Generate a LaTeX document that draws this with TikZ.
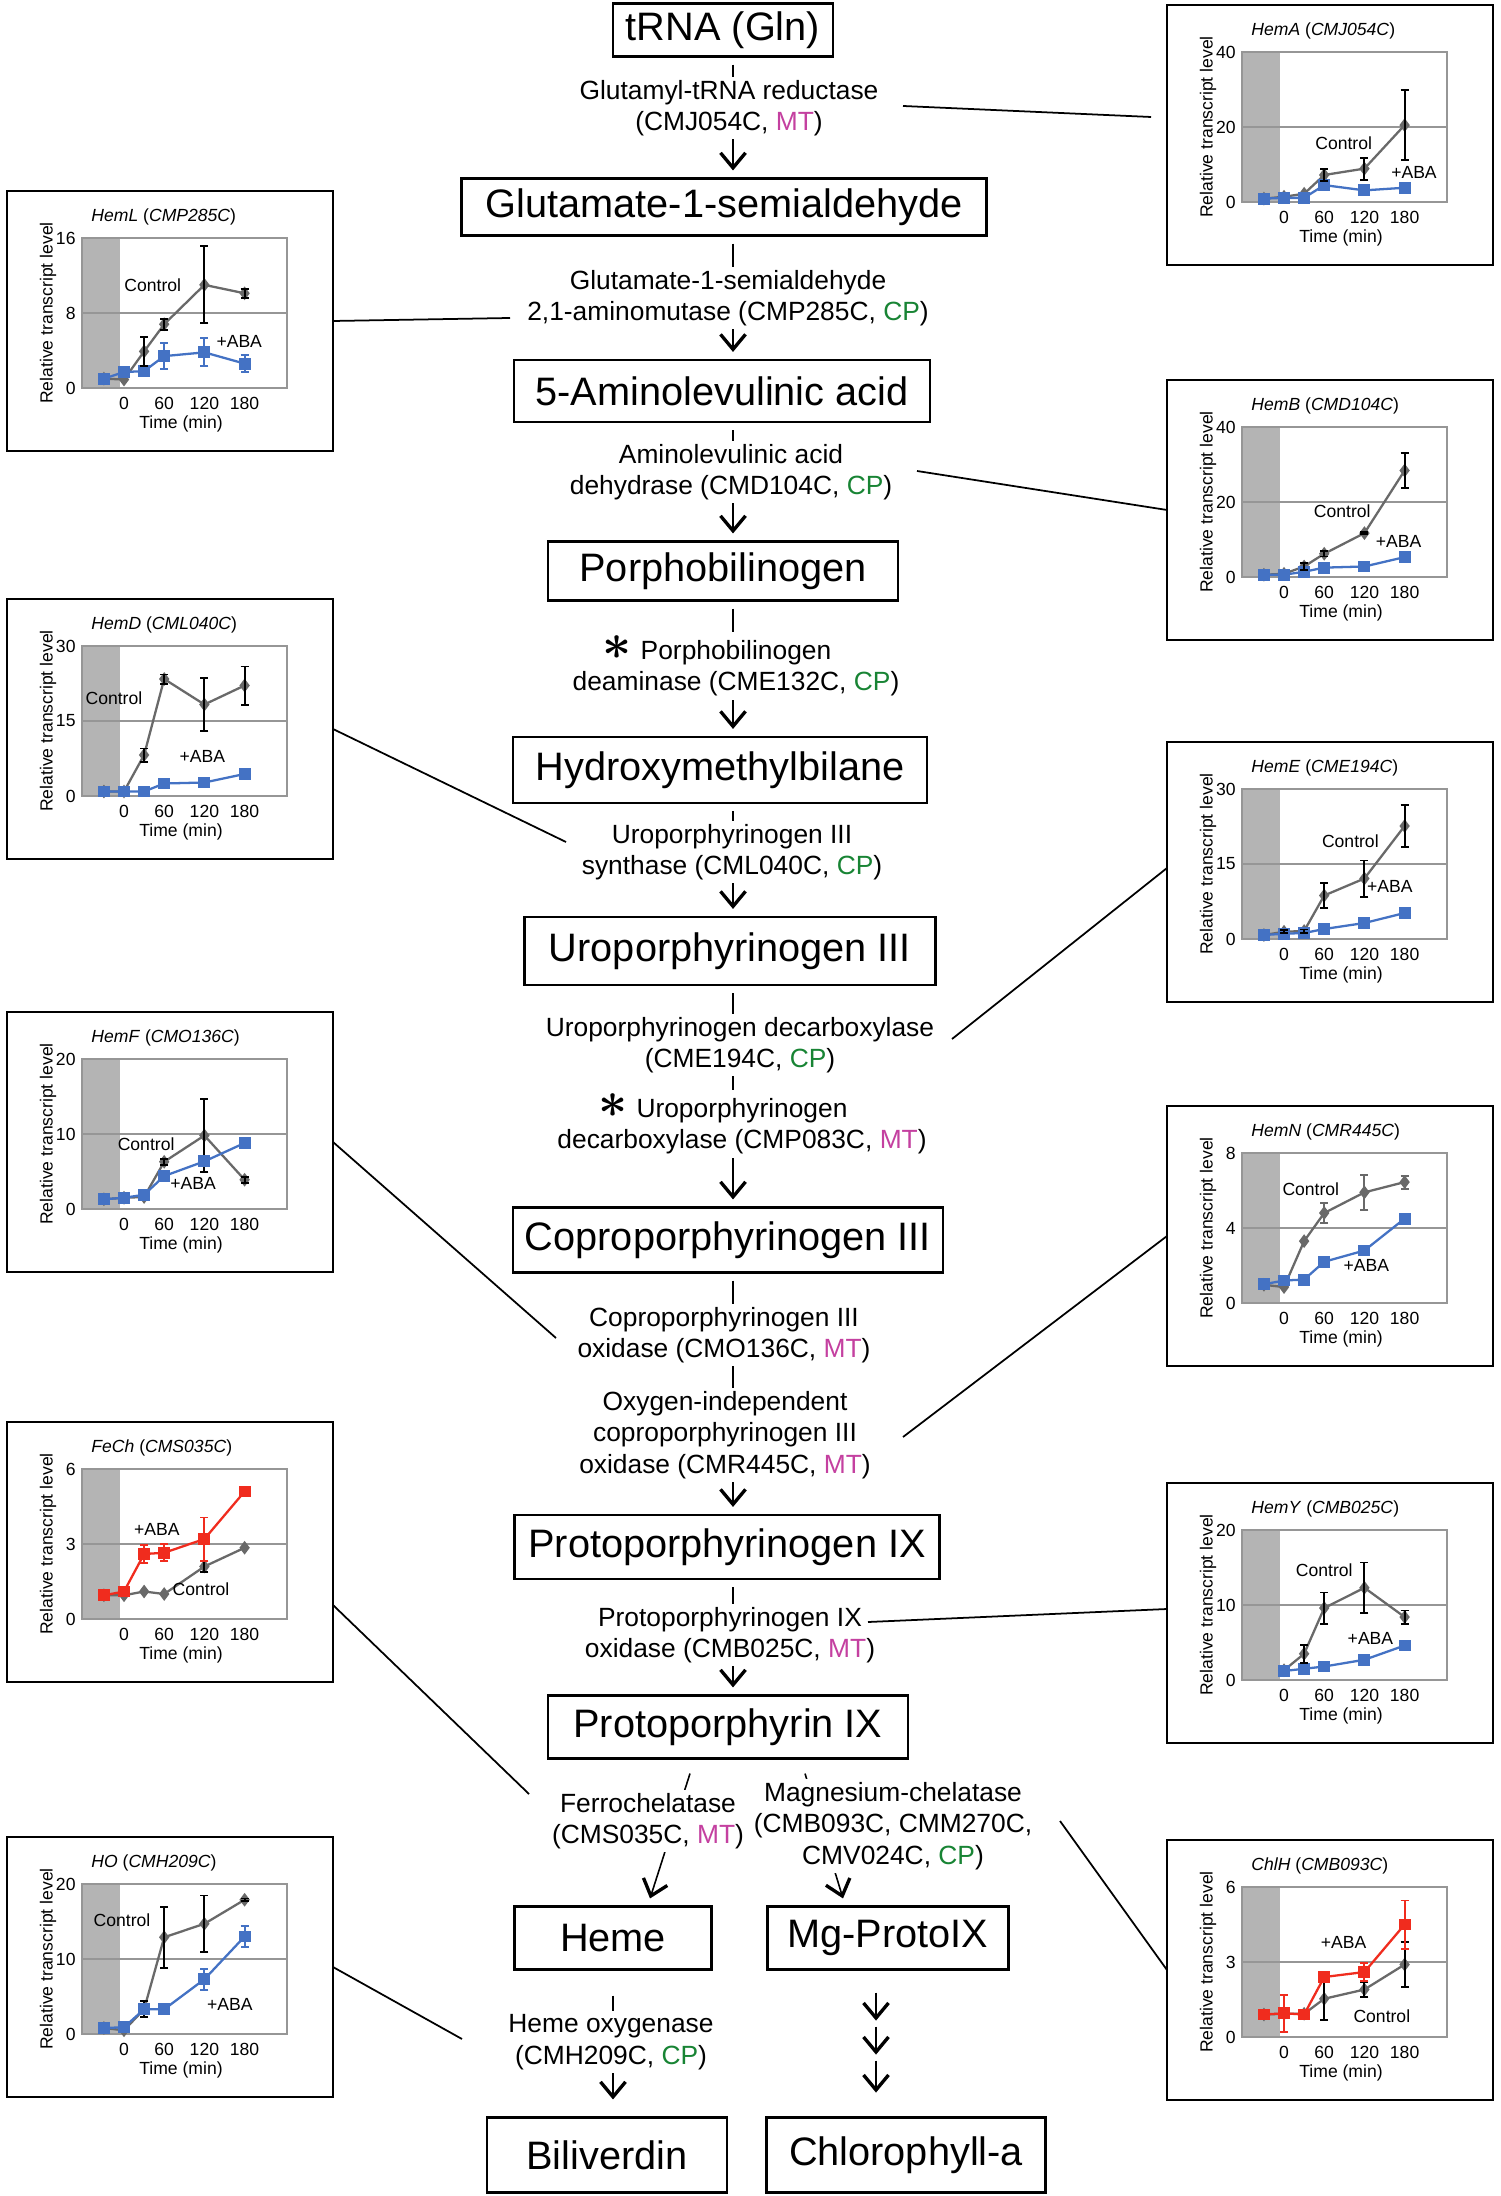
\documentclass[tikz,border=0pt]{standalone}
\usepackage{fontspec}
\setmainfont{Liberation Sans}
\usepackage{xcolor}
\usepackage{tikz}
\usetikzlibrary{arrows.meta,calc,plotmarks}

\definecolor{mtpink}{RGB}{196,64,160}
\definecolor{cpgreen}{RGB}{24,132,52}
\definecolor{abablue}{RGB}{68,114,196}
\definecolor{abared}{RGB}{240,44,30}
\definecolor{ctrlgray}{RGB}{105,105,105}
\definecolor{bandgray}{RGB}{180,180,180}
\definecolor{framegray}{RGB}{150,150,150}

\newcommand{\inMT}{\textcolor{mtpink}{MT}}
\newcommand{\inCP}{\textcolor{cpgreen}{CP}}
\newcommand{\sig}{\llap{{\fontsize{14}{14}\selectfont\boldmath$\ast$}\hspace{0.9mm}}}

% axes of one expression chart, drawn in the chart's own pixel frame
\newcommand{\chartframe}[4]{%
  \fill[bandgray] (75,47) rectangle (113,197);
  \draw[gridline] (75,122) -- (280,122);
  \draw[plotframe] (75,47) rectangle (280,197);
  \node[ctext, anchor=east] at (71,47) {#3};
  \node[ctext, anchor=east] at (71,122) {#4};
  \node[ctext, anchor=east] at (71,197) {0};
  \foreach \tm in {0,60,120,180}
    \node[ctext] at (117+0.67*\tm,212) {\tm};
  \node[ctext] at (174,233) {Time (min)};
  \node[ctext, rotate=90] at (41,122) {Relative transcript level};
  \node[ctext, anchor=west] at (82,26) {\textit{#1} (\textit{#2})};
}

\begin{document}
\begin{tikzpicture}[
    x=0.1mm, y=-0.1mm,
    compound/.style={draw, line width=0.6pt, font=\fontsize{11.3}{13}\selectfont, minimum height=6.3mm, inner sep=0pt},
    enzyme/.style={font=\fontsize{7.5}{8.9}\selectfont, align=center, fill=white, inner sep=1pt},
    flow/.style={line width=0.45pt, -{Straight Barb[length=1.5mm,width=2.5mm,line width=0.95pt]}, shorten <=0.7mm, shorten >=0.7mm},
    lead/.style={line width=0.5pt},
    chart/.style={draw, line width=0.6pt, minimum width=32.6mm, minimum height=26mm, inner sep=0pt, outer sep=0pt},
    ctext/.style={font=\fontsize{5}{5.8}\selectfont, inner sep=0.5pt},
    gridline/.style={draw=framegray, line width=0.4pt},
    plotframe/.style={draw=framegray, line width=0.7pt},
    ctrl/.style={ctrlgray, line width=0.65pt, mark=diamond*, mark size=0.5mm, mark options={fill=ctrlgray}},
    aba/.style={#1, line width=0.65pt, mark=square*, mark size=0.48mm, mark options={fill=#1}},
    ctrlerr/.style={black, line width=0.55pt, {Bar[width=0.8mm]}-{Bar[width=0.8mm]}},
    abaerr/.style={#1, line width=0.55pt, {Bar[width=0.8mm]}-{Bar[width=0.8mm]}}
]
    \path[use as bounding box, fill=white] (0,0) rectangle (1500,2196);

    % Pathway: compounds
    \node [compound, minimum width=22mm, minimum height=5.3mm] (trna) at (723,30) {tRNA (Gln)};
    \node [compound, minimum width=52.5mm, minimum height=5.7mm] (gsa) at (724,207) {Glutamate-1-semialdehyde};
    \node [compound, minimum width=41.6mm, minimum height=6.2mm] (ala) at (722,391) {5-Aminolevulinic acid};
    \node [compound, minimum width=35mm, minimum height=5.9mm] (pbg) at (723,571) {Porphobilinogen};
    \node [compound, minimum width=41.4mm, minimum height=6.6mm] (hmb) at (720,770) {Hydroxymethylbilane};
    \node [compound, minimum width=41.1mm, minimum height=6.8mm] (uro) at (730,951) {Uroporphyrinogen III};
    \node [compound, minimum width=43mm, minimum height=6.5mm] (copro) at (728,1240) {Coproporphyrinogen III};
    \node [compound, minimum width=42.5mm, minimum height=6.4mm] (protogen) at (727,1547) {Protoporphyrinogen IX};
    \node [compound, minimum width=36mm] (proto) at (728,1727) {Protoporphyrin IX};
    \node [compound, minimum width=19.7mm] (heme) at (613,1938) {Heme};
    \node [compound, minimum width=24.1mm] (mgp) at (888,1938) {Mg-ProtoIX};
    \node [compound, minimum width=24mm, minimum height=7.5mm] (biliv) at (607,2155) {Biliverdin};
    \node [compound, minimum width=27.9mm, minimum height=7.5mm] (chla) at (906,2155) {Chlorophyll-a};

    % Pathway: steps (labels are laid over them)
    \coordinate (spine) at (733,0);
    \draw [flow] (trna.south -| spine) -- (gsa.north -| spine);
    \draw [flow] (gsa.south -| spine) -- (ala.north -| spine);
    \draw [flow] (ala.south -| spine) -- (pbg.north -| spine);
    \draw [flow] (pbg.south -| spine) -- (hmb.north -| spine);
    \draw [flow] (hmb.south -| spine) -- (uro.north -| spine);
    \draw [flow] (uro.south -| spine) -- (copro.north -| spine);
    \draw [flow] (copro.south -| spine) -- (protogen.north -| spine);
    \draw [flow] (protogen.south -| spine) -- (proto.north -| spine);
    \draw [flow, shorten <=0pt, shorten >=0pt] ($(proto.south)+(-38,14)$) -- ($(heme.north)+(37,-7)$);
    \draw [flow, shorten <=0pt, shorten >=0pt] ($(proto.south)+(77,14)$) -- ($(mgp.north)+(-45,-7)$);
    \draw [flow, shorten <=0pt, shorten >=0pt] ($(heme.south)+(0,25)$) -- ($(heme.south |- biliv.north)+(0,-17)$);
    \draw [flow, shorten <=0pt, shorten >=0pt] ($(mgp.south)+(-12,22)$) -- ++(0,28);
    \draw [flow, shorten <=0pt, shorten >=0pt] ($(mgp.south)+(-12,56)$) -- ++(0,28);
    \draw [flow, shorten <=0pt, shorten >=0pt] ($(mgp.south)+(-12,90)$) -- ++(0,32);

    % Enzymes
    \node [enzyme] (e1) at (729,108) {Glutamyl-tRNA reductase\\(CMJ054C, \inMT)};
    \node [enzyme] (e2) at (728,298) {Glutamate-1-semialdehyde\\2,1-aminomutase (CMP285C, \inCP)};
    \node [enzyme] (e3) at (731,472) {Aminolevulinic acid\\dehydrase (CMD104C, \inCP)};
    \node [enzyme] (e4) at (736,666) {\sig Porphobilinogen\\deaminase (CME132C, \inCP)};
    \node [enzyme] (e5) at (732,852) {Uroporphyrinogen III\\synthase (CML040C, \inCP)};
    \node [enzyme] (e6a) at (740,1045) {Uroporphyrinogen decarboxylase\\(CME194C, \inCP)};
    \node [enzyme] (e6b) at (742,1124) {\sig Uroporphyrinogen\\decarboxylase (CMP083C, \inMT)};
    \node [enzyme] (e7a) at (724,1335) {Coproporphyrinogen III\\oxidase (CMO136C, \inMT)};
    \node [enzyme] (e7b) at (725,1435) {Oxygen-independent\\coproporphyrinogen III\\oxidase (CMR445C, \inMT)};
    \node [enzyme] (e8) at (730,1635) {Protoporphyrinogen IX\\oxidase (CMB025C, \inMT)};
    \node [enzyme] (e9) at (648,1821) {Ferrochelatase\\(CMS035C, \inMT)};
    \node [enzyme] (e10) at (893,1826) {Magnesium-chelatase\\(CMB093C, CMM270C,\\CMV024C, \inCP)};
    \node [enzyme] (e11) at (611,2042) {Heme oxygenase\\(CMH209C, \inCP)};

    % Charts, right column
    \node [chart] (hemA) at (1330,135) {};
    \begin{scope}[shift={(hemA.north west)}]
        \chartframe{HemA}{CMJ054C}{40}{20}
        \begin{scope}[shift={(117,197)}, x=0.067mm, y=0.375mm]
            \draw [ctrl] plot coordinates {(-30,0.9) (0,1.4) (30,2.2) (60,7.2) (120,8.9) (180,20.5)};
            \draw [aba=abablue] plot coordinates {(-30,0.9) (0,1.1) (30,1.1) (60,4.5) (120,3.1) (180,3.8)};
            \foreach \tm/\vl/\er in {60/7.2/1.8, 120/8.9/3.2, 180/20.5/9.6}
                \draw [ctrlerr] (\tm,\vl-\er) -- (\tm,\vl+\er);
            \node [ctext] at (89,15.8) {Control};
            \node [ctext] at (194,7.8) {+ABA};
        \end{scope}
    \end{scope}

    \node [chart] (hemB) at (1330,510) {};
    \begin{scope}[shift={(hemB.north west)}]
        \chartframe{HemB}{CMD104C}{40}{20}
        \begin{scope}[shift={(117,197)}, x=0.067mm, y=0.375mm]
            \draw [ctrl] plot coordinates {(-30,0.6) (0,0.85) (30,2.8) (60,6.2) (120,11.7) (180,28.4)};
            \draw [aba=abablue] plot coordinates {(-30,0.6) (0,0.6) (30,1.4) (60,2.5) (120,2.8) (180,5.3)};
            \foreach \tm/\vl/\er in {30/2.8/1.2, 60/6.2/1, 120/11.7/0.6, 180/28.4/5}
                \draw [ctrlerr] (\tm,\vl-\er) -- (\tm,\vl+\er);
            \node [ctext] at (87,17.6) {Control};
            \node [ctext] at (171,9.4) {+ABA};
        \end{scope}
    \end{scope}

    \node [chart] (hemE) at (1330,872) {};
    \begin{scope}[shift={(hemE.north west)}]
        \chartframe{HemE}{CME194C}{30}{15}
        \begin{scope}[shift={(117,197)}, x=0.067mm, y=0.5mm]
            \draw [ctrl] plot coordinates {(-30,0.8) (0,1.45) (30,1.6) (60,8.7) (120,12.1) (180,22.6)};
            \draw [aba=abablue] plot coordinates {(-30,0.8) (0,1.05) (30,1.2) (60,2.0) (120,3.2) (180,5.2)};
            \foreach \tm/\vl/\er in {0/1.45/0.5, 30/1.6/0.5, 60/8.7/2.7, 120/12.1/3.8, 180/22.6/4.4}
                \draw [ctrlerr] (\tm,\vl-\er) -- (\tm,\vl+\er);
            \foreach \tm/\vl/\er in {120/3.2/1, 180/5.2/0.8}
                \draw [abaerr=abablue] (\tm,\vl-\er) -- (\tm,\vl+\er);
            \node [ctext] at (99,19.5) {Control};
            \node [ctext] at (158,10.5) {+ABA};
        \end{scope}
    \end{scope}

    \node [chart] (hemN) at (1330,1236) {};
    \begin{scope}[shift={(hemN.north west)}]
        \chartframe{HemN}{CMR445C}{8}{4}
        \begin{scope}[shift={(117,197)}, x=0.067mm, y=1.875mm]
            \draw [ctrl] plot coordinates {(-30,0.97) (0,0.85) (30,3.3) (60,4.8) (120,5.9) (180,6.45)};
            \draw [aba=abablue] plot coordinates {(-30,1.0) (0,1.2) (30,1.25) (60,2.2) (120,2.8) (180,4.5)};
            \foreach \tm/\vl/\er in {60/4.8/0.57, 120/5.9/1, 180/6.45/0.4}
                \draw [ctrlerr, ctrlgray] (\tm,\vl-\er) -- (\tm,\vl+\er);
            \draw [abaerr=abablue] (180,4.3) -- (180,4.7);
            \node [ctext] at (40,6.05) {Control};
            \node [ctext] at (123,2.0) {+ABA};
        \end{scope}
    \end{scope}

    \node [chart] (hemY) at (1330,1613) {};
    \begin{scope}[shift={(hemY.north west)}]
        \chartframe{HemY}{CMB025C}{20}{10}
        \begin{scope}[shift={(117,197)}, x=0.067mm, y=0.75mm]
            \draw [ctrl] plot coordinates {(0,1.3) (30,3.5) (60,9.6) (120,12.3) (180,8.4)};
            \draw [aba=abablue] plot coordinates {(0,1.2) (30,1.5) (60,1.8) (120,2.7) (180,4.6)};
            \foreach \tm/\vl/\er in {30/3.5/1.3, 60/9.6/2.2, 120/12.3/3.5, 180/8.4/1}
                \draw [ctrlerr] (\tm,\vl-\er) -- (\tm,\vl+\er);
            \draw [abaerr=abablue] (120,1.9) -- (120,3.5);
            \node [ctext] at (60,14.7) {Control};
            \node [ctext] at (129,5.5) {+ABA};
        \end{scope}
    \end{scope}

    \node [chart] (chlH) at (1330,1970) {};
    \begin{scope}[shift={(chlH.north west)}]
        \chartframe{ChlH}{CMB093C}{6}{3}
        \begin{scope}[shift={(117,197)}, x=0.067mm, y=2.5mm]
            \draw [ctrl] plot coordinates {(-30,0.9) (0,0.93) (30,0.93) (60,1.53) (120,1.9) (180,2.9)};
            \foreach \tm/\vl/\er in {30/0.93/0.2, 60/1.53/0.87, 120/1.9/0.35, 180/2.9/0.93}
                \draw [ctrlerr] (\tm,\vl-\er) -- (\tm,\vl+\er);
            \draw [aba=abared] plot coordinates {(-30,0.9) (0,0.95) (30,0.9) (60,2.4) (120,2.6) (180,4.5)};
            \foreach \tm/\vl/\er in {0/0.95/0.77, 30/0.9/0.15, 60/2.4/0.25, 120/2.6/0.4, 180/4.5/1}
                \draw [abaerr=abared] (\tm,\vl-\er) -- (\tm,\vl+\er);
            \node [ctext] at (89,3.8) {+ABA};
            \node [ctext] at (146,0.85) {Control};
        \end{scope}
    \end{scope}

    % Charts, left column
    \node [chart] (hemL) at (170,321) {};
    \begin{scope}[shift={(hemL.north west)}]
        \chartframe{HemL}{CMP285C}{16}{8}
        \begin{scope}[shift={(117,197)}, x=0.067mm, y=0.9375mm]
            \draw [ctrl] plot coordinates {(-30,1.0) (0,0.9) (30,3.9) (60,6.8) (120,11) (180,10.1)};
            \draw [aba=abablue] plot coordinates {(-30,1.0) (0,1.7) (30,1.8) (60,3.4) (120,3.8) (180,2.6)};
            \foreach \tm/\vl/\er in {30/3.9/1.65, 60/6.8/0.7, 120/11/4.2, 180/10.1/0.6}
                \draw [ctrlerr] (\tm,\vl-\er) -- (\tm,\vl+\er);
            \foreach \tm/\vl/\er in {0/1.7/0.5, 60/3.4/1.5, 120/3.8/1.6, 180/2.6/1.0}
                \draw [abaerr=abablue] (\tm,\vl-\er) -- (\tm,\vl+\er);
            \node [ctext] at (43,11) {Control};
            \node [ctext] at (172,5) {+ABA};
        \end{scope}
    \end{scope}

    \node [chart] (hemD) at (170,729) {};
    \begin{scope}[shift={(hemD.north west)}]
        \chartframe{HemD}{CML040C}{30}{15}
        \begin{scope}[shift={(117,197)}, x=0.067mm, y=0.5mm]
            \draw [ctrl] plot coordinates {(-30,0.9) (0,0.9) (30,8.2) (60,23.4) (120,18.3) (180,22.1)};
            \draw [aba=abablue] plot coordinates {(-30,0.9) (0,0.9) (30,0.9) (60,2.5) (120,2.7) (180,4.4)};
            \foreach \tm/\vl/\er in {30/8.2/1.5, 60/23.4/1.1, 120/18.3/5.5, 180/22.1/4}
                \draw [ctrlerr] (\tm,\vl-\er) -- (\tm,\vl+\er);
            \node [ctext] at (-15,19.6) {Control};
            \node [ctext] at (117,7.9) {+ABA};
        \end{scope}
    \end{scope}

    \node [chart] (hemF) at (170,1142) {};
    \begin{scope}[shift={(hemF.north west)}]
        \chartframe{HemF}{CMO136C}{20}{10}
        \begin{scope}[shift={(117,197)}, x=0.067mm, y=0.75mm]
            \draw [ctrl] plot coordinates {(-30,1.3) (0,1.5) (30,1.6) (60,6.3) (120,9.8) (180,3.9)};
            \foreach \tm/\vl/\er in {60/6.3/0.5, 120/9.8/5, 180/3.9/0.5}
                \draw [ctrlerr] (\tm,\vl-\er) -- (\tm,\vl+\er);
            \draw [aba=abablue] plot coordinates {(-30,1.3) (0,1.5) (30,1.9) (60,4.4) (120,6.35) (180,8.8)};
            \node [ctext] at (33,8.7) {Control};
            \node [ctext] at (103,3.4) {+ABA};
        \end{scope}
    \end{scope}

    \node [chart] (feCh) at (170,1552) {};
    \begin{scope}[shift={(feCh.north west)}]
        \chartframe{FeCh}{CMS035C}{6}{3}
        \begin{scope}[shift={(117,197)}, x=0.067mm, y=2.5mm]
            \draw [ctrl] plot coordinates {(-30,0.95) (0,0.95) (30,1.1) (60,1.0) (120,2.1) (180,2.85)};
            \draw [ctrlerr] (120,1.85) -- (120,2.35);
            \draw [aba=abared] plot coordinates {(-30,0.95) (0,1.1) (30,2.6) (60,2.65) (120,3.2) (180,5.1)};
            \foreach \tm/\vl/\er in {30/2.6/0.4, 60/2.65/0.38, 120/3.2/0.9}
                \draw [abaerr=abared] (\tm,\vl-\er) -- (\tm,\vl+\er);
            \node [ctext] at (49,3.6) {+ABA};
            \node [ctext] at (115,1.2) {Control};
        \end{scope}
    \end{scope}

    \node [chart] (hO) at (170,1967) {};
    \begin{scope}[shift={(hO.north west)}]
        \chartframe{HO}{CMH209C}{20}{10}
        \begin{scope}[shift={(117,197)}, x=0.067mm, y=0.75mm]
            \draw [ctrl] plot coordinates {(-30,0.8) (0,0.5) (30,3.3) (60,12.9) (120,14.7) (180,17.9)};
            \foreach \tm/\vl/\er in {30/3.3/1.2, 60/12.9/4.2, 120/14.7/3.9, 180/17.9/0.3}
                \draw [ctrlerr] (\tm,\vl-\er) -- (\tm,\vl+\er);
            \draw [aba=abablue] plot coordinates {(-30,0.8) (0,0.9) (30,3.3) (60,3.3) (120,7.3) (180,13)};
            \foreach \tm/\vl/\er in {30/3.3/0.6, 60/3.3/0.6, 120/7.3/1.5, 180/13/1.5}
                \draw [abaerr=abablue] (\tm,\vl-\er) -- (\tm,\vl+\er);
            \node [ctext] at (-3,15.2) {Control};
            \node [ctext] at (158,4) {+ABA};
        \end{scope}
    \end{scope}

    % Leader lines from enzymes to charts
    \draw [lead] ($(e1)+(174,-2)$) -- ($(hemA.west)+(-16,-18)$);
    \draw [lead] (hemL.east) -- ($(e2)+(-218,20)$);
    \draw [lead] ($(e3)+(186,-1)$) -- (hemB.west);
    \draw [lead] (hemD.east) -- ($(e5)+(-166,-10)$);
    \draw [lead] ($(e6a)+(212,-6)$) -- ($(hemE.west)+(0,-4)$);
    \draw [lead] (hemF.east) -- ($(e7a)+(-168,3)$);
    \draw [lead] ($(e7b)+(178,2)$) -- (hemN.west);
    \draw [lead] ($(e8)+(138,-13)$) -- ($(hemY.west)+(0,-4)$);
    \draw [lead] ($(feCh.east)+(0,53)$) -- ($(e9)+(-119,-27)$);
    \draw [lead] ($(e10)+(167,-5)$) -- (chlH.west);
    \draw [lead] (hO.east) -- ($(e11)+(-149,-3)$);
\end{tikzpicture}
\end{document}
